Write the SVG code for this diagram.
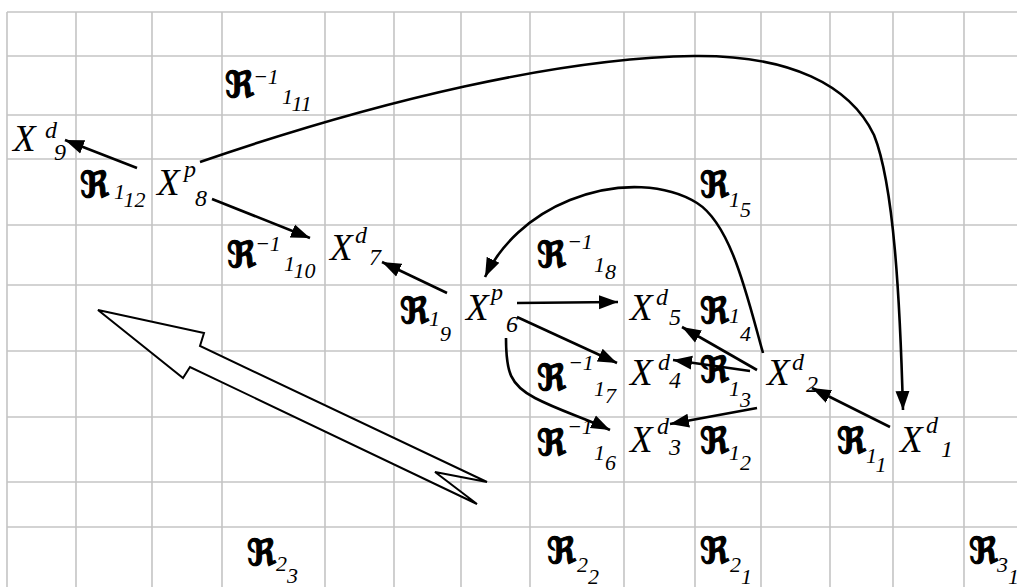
<svg xmlns="http://www.w3.org/2000/svg" width="1017" height="587" viewBox="0 0 1017 587">
<style>
.grid line{stroke:#c4c4c4;stroke-width:1.6}
.x{font-family:"Liberation Serif",serif;font-style:italic;font-size:37px;fill:#000}
.s{font-family:"Liberation Serif",serif;font-style:italic;font-size:24px;fill:#000}
.r{font-family:"DejaVu Sans","DejaVu Serif",sans-serif;font-weight:bold;font-size:36px;fill:#000;stroke:#000;stroke-width:1.2}
.rs{font-family:"Liberation Serif",serif;font-style:italic;font-size:22px;fill:#000}
.c{fill:none;stroke:#000;stroke-width:2.6;marker-end:url(#ah)}
.big{fill:#fff;stroke:#000;stroke-width:2;stroke-linejoin:miter}
</style>
<defs>
<marker id="ah" markerUnits="userSpaceOnUse" markerWidth="20" markerHeight="16" refX="19" refY="8" orient="auto">
<path d="M0,1 L19,8 L0,15 Z" fill="#000"/>
</marker>
</defs>
<rect width="1017" height="587" fill="#fff"/>
<g class="grid">
<line x1="7" y1="12" x2="1017" y2="12"/>
<line x1="7" y1="56" x2="1017" y2="56"/>
<line x1="7" y1="115" x2="1017" y2="115"/>
<line x1="7" y1="159" x2="1017" y2="159"/>
<line x1="7" y1="225" x2="1017" y2="225"/>
<line x1="7" y1="285" x2="1017" y2="285"/>
<line x1="7" y1="351" x2="1017" y2="351"/>
<line x1="7" y1="417" x2="1017" y2="417"/>
<line x1="7" y1="482" x2="1017" y2="482"/>
<line x1="7" y1="527" x2="1017" y2="527"/>
<line x1="7" y1="12" x2="7" y2="587"/>
<line x1="76" y1="12" x2="76" y2="587"/>
<line x1="152" y1="12" x2="152" y2="587"/>
<line x1="222" y1="12" x2="222" y2="587"/>
<line x1="325" y1="12" x2="325" y2="587"/>
<line x1="394" y1="12" x2="394" y2="587"/>
<line x1="461" y1="12" x2="461" y2="587"/>
<line x1="530" y1="12" x2="530" y2="587"/>
<line x1="624" y1="12" x2="624" y2="587"/>
<line x1="695" y1="12" x2="695" y2="587"/>
<line x1="761" y1="12" x2="761" y2="587"/>
<line x1="830" y1="12" x2="830" y2="587"/>
<line x1="893" y1="12" x2="893" y2="587"/>
<line x1="964" y1="12" x2="964" y2="587"/>
</g>
<polygon id="big-arrow" class="big" points="98,310 204,333 200,346 487,482 435,472 477,504 190,367 183,378"/>
<g id="connectors">
<line class="c" x1="137" y1="168" x2="65" y2="140"/>
<line class="c" x1="212" y1="199" x2="310" y2="238"/>
<line class="c" x1="447" y1="293" x2="382" y2="262"/>
<path class="c" d="M200,162 C380,100 560,58 694,56 C790,55 850,85 874,135 C894,185 900,300 903,410"/>
<path class="c" d="M763,353 C748,300 732,225 697,203 C668,185 620,180 570,200 C530,216 500,245 485,277"/>
<line class="c" x1="517" y1="303" x2="618" y2="302"/>
<line class="c" x1="517" y1="317" x2="617" y2="363"/>
<path class="c" d="M506,338 C506,372 510,385 535,398 C560,411 585,418 610,430"/>
<line class="c" x1="757" y1="370" x2="682" y2="327"/>
<line class="c" x1="750" y1="371" x2="673" y2="360"/>
<line class="c" x1="757" y1="408" x2="670" y2="424"/>
<line class="c" x1="890" y1="427" x2="812" y2="388"/>
</g>
<g id="Xd9"><text class="x" x="13" y="151">X</text><text class="s" x="45" y="138">d</text><text class="s" x="54" y="160">9</text></g>
<g id="Xp8"><text class="x" x="157" y="195">X</text><text class="s" x="184" y="177">p</text><text class="s" x="195" y="206">8</text></g>
<g id="Xd7"><text class="x" x="330" y="260">X</text><text class="s" x="355" y="243">d</text><text class="s" x="369" y="265">7</text></g>
<g id="Xp6"><text class="x" x="466" y="320">X</text><text class="s" x="491" y="300">p</text><text class="s" x="506" y="332">6</text></g>
<g id="Xd5"><text class="x" x="630" y="320">X</text><text class="s" x="656" y="305">d</text><text class="s" x="669" y="325">5</text></g>
<g id="Xd4"><text class="x" x="630" y="385">X</text><text class="s" x="658" y="370">d</text><text class="s" x="669" y="388">4</text></g>
<g id="Xd3"><text class="x" x="630" y="452">X</text><text class="s" x="657" y="434">d</text><text class="s" x="669" y="455">3</text></g>
<g id="Xd2"><text class="x" x="767" y="385">X</text><text class="s" x="792" y="370">d</text><text class="s" x="806" y="392">2</text></g>
<g id="Xd1"><text class="x" x="900" y="452">X</text><text class="s" x="926" y="433">d</text><text class="s" x="941" y="457">1</text></g>
<g id="R1_11"><text class="r" x="225" y="97">ℜ</text><text class="rs" x="253" y="84">−1</text><text class="rs" x="282" y="104">1<tspan dy="7">11</tspan></text></g>
<g id="R1_12"><text class="r" x="80" y="197">ℜ</text><text class="rs" x="114" y="199">1<tspan dy="8">12</tspan></text></g>
<g id="R1_10"><text class="r" x="227" y="267">ℜ</text><text class="rs" x="255" y="251">−1</text><text class="rs" x="284" y="271">1<tspan dy="7">10</tspan></text></g>
<g id="R1_9"><text class="r" x="400" y="323">ℜ</text><text class="rs" x="429" y="326">1<tspan dy="15">9</tspan></text></g>
<g id="R1_5"><text class="r" x="700" y="197">ℜ</text><text class="rs" x="729" y="207">1<tspan dy="10">5</tspan></text></g>
<g id="R1_8"><text class="r" x="537" y="267">ℜ</text><text class="rs" x="567" y="249">−1</text><text class="rs" x="594" y="272">1<tspan dy="7">8</tspan></text></g>
<g id="R1_4"><text class="r" x="700" y="323">ℜ</text><text class="rs" x="729" y="323">1<tspan dy="18">4</tspan></text></g>
<g id="R1_3"><text class="r" x="700" y="382">ℜ</text><text class="rs" x="729" y="396">1<tspan dy="11">3</tspan></text></g>
<g id="R1_7"><text class="r" x="537" y="390">ℜ</text><text class="rs" x="568" y="370">−1</text><text class="rs" x="594" y="396">1<tspan dy="7">7</tspan></text></g>
<g id="R1_2"><text class="r" x="700" y="453">ℜ</text><text class="rs" x="729" y="460">1<tspan dy="10">2</tspan></text></g>
<g id="R1_6"><text class="r" x="537" y="455">ℜ</text><text class="rs" x="567" y="434">−1</text><text class="rs" x="594" y="460">1<tspan dy="10">6</tspan></text></g>
<g id="R1_1"><text class="r" x="837" y="453">ℜ</text><text class="rs" x="866" y="463">1<tspan dy="9">1</tspan></text></g>
<g id="R2_3"><text class="r" x="247" y="565">ℜ</text><text class="rs" x="276" y="571">2<tspan dy="12">3</tspan></text></g>
<g id="R2_2"><text class="r" x="547" y="563">ℜ</text><text class="rs" x="577" y="572">2<tspan dy="12">2</tspan></text></g>
<g id="R2_1"><text class="r" x="700" y="563">ℜ</text><text class="rs" x="730" y="572">2<tspan dy="12">1</tspan></text></g>
<g id="R3_1"><text class="r" x="969" y="563">ℜ</text><text class="rs" x="997" y="572">3<tspan dy="12">1</tspan></text></g>
</svg>
